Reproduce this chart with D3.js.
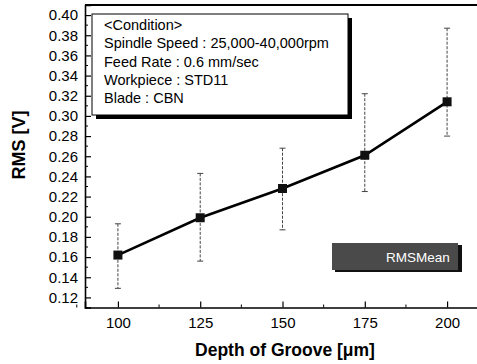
<!DOCTYPE html>
<html>
<head>
<meta charset="utf-8">
<script src="https://cdn.jsdelivr.net/npm/d3@7"></script>
<style>
  body { margin: 0; background: #fff; }
  svg { display: block; font-family: 'Liberation Sans', Arial, sans-serif; }
</style>
</head>
<body>
<div id="chart"></div>
<script>
let depth = [100, 125, 150, 175, 200]
let rmsMean = [0.162, 0.199, 0.228, 0.261, 0.314]
let errTop = [0.193, 0.243, 0.268, 0.322, 0.387]
let errBottom = [0.129, 0.156, 0.187, 0.225, 0.280]
let xTicks = [100, 125, 150, 175, 200]
let yTicks = [0.12, 0.14, 0.16, 0.18, 0.20, 0.22, 0.24, 0.26, 0.28, 0.30, 0.32, 0.34, 0.36, 0.38, 0.40]
let conditionLines = ['<Condition>', 'Spindle Speed : 25,000-40,000rpm', 'Feed Rate : 0.6 mm/sec', 'Workpiece : STD11', 'Blade : CBN']
let legendLabel = 'RMSMean'

let width = 477
let height = 364

let svg = d3.select('#chart').append('svg')
    .attr('width', width)
    .attr('height', height)

let x = d3.scaleLinear().domain([90, 210]).range([85, 480])
let y = d3.scaleLinear().domain([0.11, 0.41]).range([307.5, 5])

let points = depth.map((d, i) => ({ x: d, y: rmsMean[i], hi: errTop[i], lo: errBottom[i] }))

// axes, ticks pointing inward
let xAxis = d3.axisBottom(x).tickValues(xTicks).tickSize(-6).tickPadding(10).tickFormat(d3.format('d'))
let yAxis = d3.axisLeft(y).tickValues(yTicks).tickSize(-6).tickPadding(7).tickFormat(d3.format('.2f'))

let gx = svg.append('g').attr('transform', 'translate(0,' + y.range()[0] + ')').call(xAxis)
let gy = svg.append('g').attr('transform', 'translate(' + x.range()[0] + ',0)').call(yAxis)

for (let g of [gx, gy]) {
  g.select('.domain').attr('stroke', '#000').attr('stroke-width', 1.6)
  g.selectAll('.tick line').attr('stroke', '#000').attr('stroke-width', 1.2)
  g.selectAll('.tick text').attr('fill', '#000').style('font-size', '15px')
}

// minor ticks
let xMinor = d3.range(87.5, 210, 12.5).filter((v) => xTicks.indexOf(v) < 0)
svg.append('g').selectAll('line')
    .data(xMinor)
    .enter().append('line')
      .attr('x1', (d) => x(d)).attr('x2', (d) => x(d))
      .attr('y1', y.range()[0]).attr('y2', y.range()[0] - 3)
      .attr('stroke', '#000')
let yMinor = d3.range(0.11, 0.41, 0.02).map((v) => +v.toFixed(2))
svg.append('g').selectAll('line')
    .data(yMinor)
    .enter().append('line')
      .attr('x1', x.range()[0]).attr('x2', x.range()[0] + 3)
      .attr('y1', (d) => y(d)).attr('y2', (d) => y(d))
      .attr('stroke', '#000')

// top frame
svg.append('line')
    .attr('x1', x.range()[0]).attr('x2', width)
    .attr('y1', y.range()[1]).attr('y2', y.range()[1])
    .attr('stroke', '#000').attr('stroke-width', 1.8)

// axis titles
svg.append('text')
    .attr('x', 285).attr('y', 356)
    .attr('text-anchor', 'middle')
    .style('font-size', '17.5px').style('font-weight', 'bold')
    .text('Depth of Groove [μm]')
svg.append('text')
    .attr('transform', 'translate(25,145) rotate(-90)')
    .attr('text-anchor', 'middle')
    .style('font-size', '18px').style('font-weight', 'bold')
    .text('RMS [V]')

// error bars
let err = svg.append('g').attr('stroke', '#444').attr('stroke-width', 1)
err.selectAll('.bar')
    .data(points)
    .enter().append('line')
      .attr('x1', (d) => x(d.x)).attr('x2', (d) => x(d.x))
      .attr('y1', (d) => y(d.hi)).attr('y2', (d) => y(d.lo))
      .attr('stroke-dasharray', '3,1.5')
err.selectAll('.capHi')
    .data(points)
    .enter().append('line')
      .attr('x1', (d) => x(d.x) - 3).attr('x2', (d) => x(d.x) + 3)
      .attr('y1', (d) => y(d.hi)).attr('y2', (d) => y(d.hi))
err.selectAll('.capLo')
    .data(points)
    .enter().append('line')
      .attr('x1', (d) => x(d.x) - 3).attr('x2', (d) => x(d.x) + 3)
      .attr('y1', (d) => y(d.lo)).attr('y2', (d) => y(d.lo))

// mean line
let line = d3.line().x((d) => x(d.x)).y((d) => y(d.y))
svg.append('path')
    .datum(points)
    .attr('d', line)
    .attr('fill', 'none')
    .attr('stroke', '#000')
    .attr('stroke-width', 2.6)

svg.append('g').selectAll('rect')
    .data(points)
    .enter().append('rect')
      .attr('x', (d) => x(d.x) - 4.5)
      .attr('y', (d) => y(d.y) - 4.5)
      .attr('width', 9).attr('height', 9)
      .attr('fill', '#111')

// condition box
let box = { x: 92, y: 14, w: 256, h: 101 }
svg.append('rect')
    .attr('x', box.x + 4).attr('y', box.y + 4)
    .attr('width', box.w).attr('height', box.h)
    .attr('fill', '#000')
svg.append('rect')
    .attr('x', box.x).attr('y', box.y)
    .attr('width', box.w).attr('height', box.h)
    .attr('fill', '#fff').attr('stroke', '#000').attr('stroke-width', 1)
svg.append('g').selectAll('text')
    .data(conditionLines)
    .enter().append('text')
      .attr('x', box.x + 12)
      .attr('y', (d, i) => 30 + i * 18.3)
      .style('font-size', '14.5px')
      .attr('fill', '#000')
      .text((d) => d)

// legend
svg.append('rect')
    .attr('x', 335).attr('y', 245)
    .attr('width', 127).attr('height', 27)
    .attr('fill', '#111')
svg.append('rect')
    .attr('x', 332).attr('y', 243)
    .attr('width', 126).attr('height', 27)
    .attr('fill', '#4a4a4a')
svg.append('text')
    .attr('x', 418).attr('y', 262)
    .attr('text-anchor', 'middle')
    .attr('fill', '#fff')
    .style('font-size', '13.5px')
    .text(legendLabel)
</script>
</body>
</html>
